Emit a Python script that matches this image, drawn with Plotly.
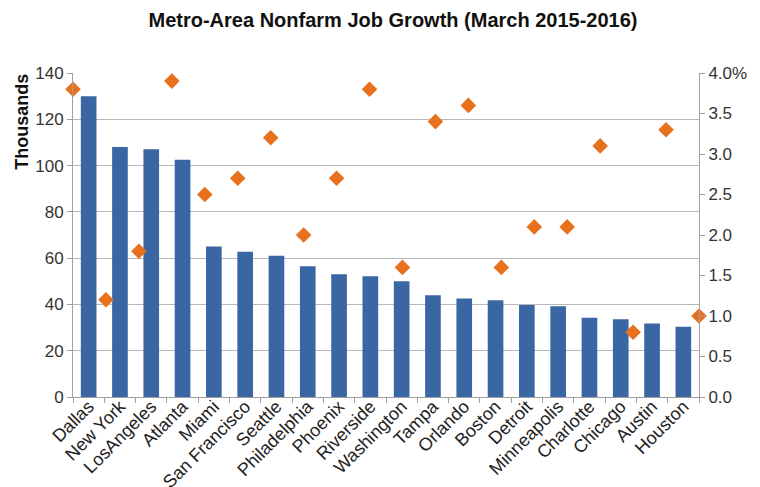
import plotly.graph_objects as go

cities = ["Dallas", "New York", "LosAngeles", "Atlanta", "Miami", "San Francisco", "Seattle",
          "Philadelphia", "Phoenix", "Riverside", "Washington", "Tampa", "Orlando", "Boston",
          "Detroit", "Minneapolis", "Charlotte", "Chicago", "Austin", "Houston"]
jobs_thousands = [130, 108, 107, 102.5, 65, 62.8, 61, 56.5, 53, 52.2,
                  50, 44, 42.6, 41.8, 39.8, 39.2, 34.2, 33.6, 31.8, 30.4]
growth_pct = [3.8, 1.2, 1.8, 3.9, 2.5, 2.7, 3.2, 2.0, 2.7, 3.8,
              1.6, 3.4, 3.6, 1.6, 2.1, 2.1, 3.1, 0.8, 3.3, 1.0]

left_ticks = [0, 20, 40, 60, 80, 100, 120, 140]
right_ticks = [0, 0.5, 1.0, 1.5, 2.0, 2.5, 3.0, 3.5, 4.0]
right_labels = ["0.0", "0.5", "1.0", "1.5", "2.0", "2.5", "3.0", "3.5", "4.0%"]

font_family = "Liberation Sans, Arial, sans-serif"
axis_color = "#a0a0a0"

fig = go.Figure()
fig.add_trace(go.Bar(
    x=cities, y=jobs_thousands,
    marker=dict(color="#3a66a3", line=dict(width=0)),
    width=0.5, xaxis="x", yaxis="y", showlegend=False,
))
fig.add_trace(go.Scatter(
    x=list(range(len(growth_pct))), y=growth_pct, mode="markers",
    marker=dict(symbol="diamond", size=12, color="#e8711e"),
    xaxis="x2", yaxis="y2", showlegend=False, cliponaxis=False,
))

fig.update_layout(
    width=752, height=479,
    margin=dict(l=65, r=61, t=65, b=90),
    paper_bgcolor="white", plot_bgcolor="white",
    font=dict(family=font_family, size=17, color="#222222"),
    title=dict(text="<b>Metro-Area Nonfarm Job Growth (March 2015-2016)</b>",
               x=0.512, xanchor="center", y=0.975, yanchor="middle",
               font=dict(size=20, color="#111111")),
    xaxis=dict(
        type="category", tickangle=-45, tickson="boundaries", ticks="outside",
        ticklen=5, tickcolor=axis_color, showline=True, linecolor=axis_color,
        showgrid=False, tickfont=dict(size=18, color="#222222"),
        range=[-0.5, len(cities) - 0.5], automargin=False,
        ticklabelstandoff=-9,
    ),
    xaxis2=dict(overlaying="x", range=[0, len(growth_pct) - 1], visible=False,
                anchor="y2"),
    yaxis=dict(
        range=[0, 140], tickvals=left_ticks, showgrid=True, gridcolor="#b8b8b8",
        gridwidth=1, showline=True, linecolor=axis_color, ticks="outside",
        ticklen=5, tickcolor=axis_color, zeroline=False,
        tickfont=dict(size=17, color="#333333"), automargin=False,
    ),
    yaxis2=dict(
        range=[0, 4.0], overlaying="y", side="right", tickvals=right_ticks,
        ticktext=right_labels, showgrid=False, showline=True,
        linecolor=axis_color, ticks="outside", ticklen=5, tickcolor=axis_color,
        zeroline=False, tickfont=dict(size=17, color="#333333"), automargin=False,
    ),
    annotations=[dict(
        text="<b>Thousands</b>", textangle=-90, xref="paper", yref="paper",
        x=-0.081, y=1.005, xanchor="center", yanchor="top", showarrow=False,
        font=dict(size=18, color="#111111"),
    )],
)

fig.write_html("out.html")
